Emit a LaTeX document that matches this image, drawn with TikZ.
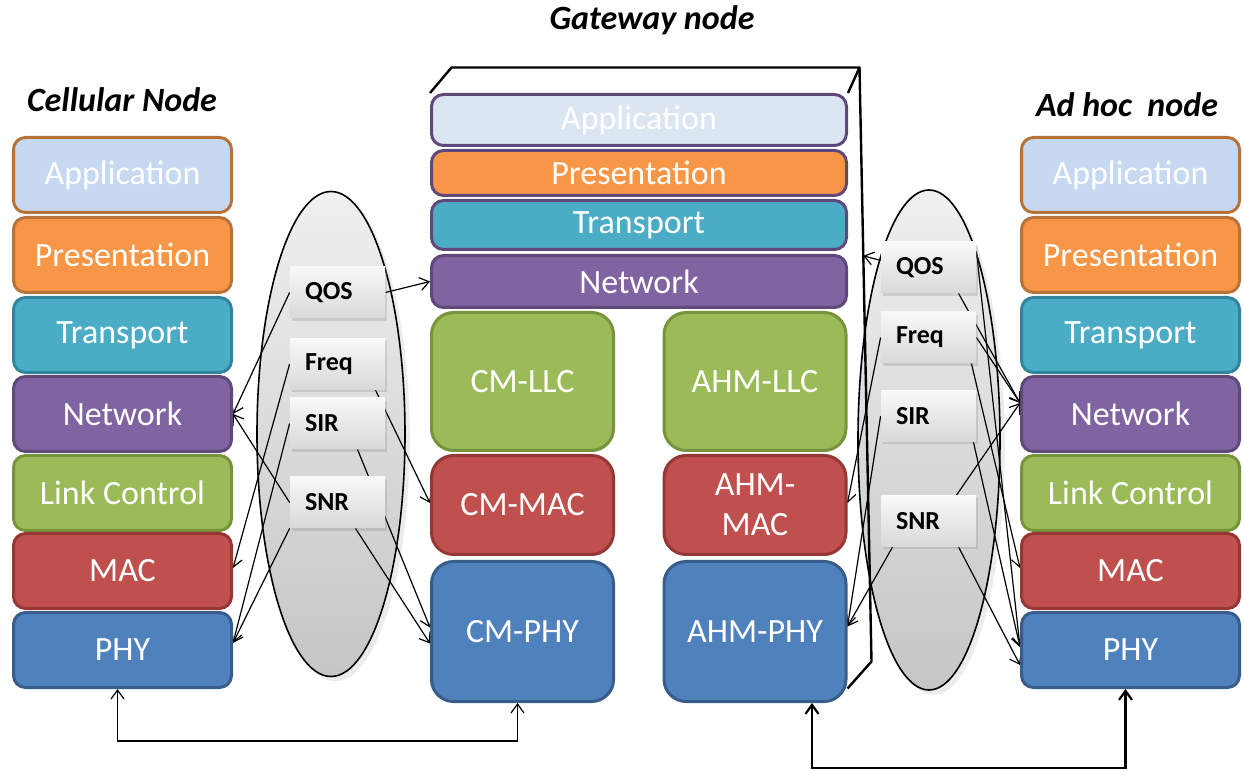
\documentclass[tikz,border=0pt]{standalone}
\usepackage{fontspec}
\setmainfont{Carlito}
\usetikzlibrary{shapes.geometric,shadows,calc,arrows.meta}
\pgfdeclarelayer{back}
\pgfdeclarelayer{mid}
\pgfsetlayers{back,mid,main}

\definecolor{appBlue}{HTML}{C6D9F1}
\definecolor{gwApp}{HTML}{DCE6F2}
\definecolor{preOr}{HTML}{F79646}
\definecolor{traCy}{HTML}{4BACC6}
\definecolor{netPu}{HTML}{8064A2}
\definecolor{llcGr}{HTML}{9BBB59}
\definecolor{macRd}{HTML}{C0504D}
\definecolor{phyBl}{HTML}{4F81BD}
\definecolor{edgeBr}{HTML}{B8733A}
\definecolor{edgeCy}{HTML}{31849B}
\definecolor{edgePu}{HTML}{5F497A}
\definecolor{edgeGr}{HTML}{77933C}
\definecolor{edgeRd}{HTML}{953735}
\definecolor{edgeBl}{HTML}{385D8A}

\begin{document}
\begin{tikzpicture}[x=0.5pt, y=-0.5pt, >={Straight Barb[length=4.5pt,width=6.5pt]},
		osibox/.style={draw, rounded corners=6pt, line width=1.5pt, text=white, font=\fontsize{17}{20}\selectfont, minimum width=109pt, minimum height=37.5pt, inner sep=0pt},
		gwtop/.style={osibox, draw=edgePu, minimum width=207.5pt},
		gwlow/.style={osibox, rounded corners=11pt, minimum width=91pt, align=center},
		param/.style={top color=gray!5, bottom color=gray!30, font=\bfseries\fontsize{13}{15}\selectfont, text width=32.5pt, inner xsep=7.5pt, align=left, minimum height=25.5pt, drop shadow={opacity=0.25, shadow xshift=1pt, shadow yshift=-1.5pt}},
		ovalbox/.style={ellipse, draw, line width=0.8pt, top color=gray!12, bottom color=gray!45, drop shadow={opacity=0.15}},
		conn/.style={->, line width=0.6pt},
		title/.style={font=\bfseries\itshape\fontsize{17}{20}\selectfont}]
		\useasboundingbox (0,0) rectangle (1244,770);
		% titles
		\node[title] (cTitle) at (122,100) {Cellular Node};
		\node[title] (gTitle) at (652,20) {Gateway node};
		\node[title] (aTitle) at (1127,105) {Ad hoc\ \ node};
		% cellular node
		\node[osibox, fill=appBlue, draw=edgeBr] (cApp) at (122.5,175) {Application};
		\node[osibox, fill=preOr, draw=edgeBr] (cPre) at (122.5,255) {Presentation};
		\node[osibox, fill=traCy, draw=edgeCy] (cTra) at (122.5,335) {Transport};
		\node[osibox, fill=netPu, draw=edgePu] (cNet) at (122.5,414) {Network};
		\node[osibox, fill=llcGr, draw=edgeGr] (cLlc) at (122.5,493) {Link Control};
		\node[osibox, fill=macRd, draw=edgeRd] (cMac) at (122.5,571) {MAC};
		\node[osibox, fill=phyBl, draw=edgeBl] (cPhy) at (122.5,650) {PHY};
		% ad hoc node
		\node[osibox, fill=appBlue, draw=edgeBr] (aApp) at (1130.5,175) {Application};
		\node[osibox, fill=preOr, draw=edgeBr] (aPre) at (1130.5,255) {Presentation};
		\node[osibox, fill=traCy, draw=edgeCy] (aTra) at (1130.5,335) {Transport};
		\node[osibox, fill=netPu, draw=edgePu] (aNet) at (1130.5,414) {Network};
		\node[osibox, fill=llcGr, draw=edgeGr] (aLlc) at (1130.5,493) {Link Control};
		\node[osibox, fill=macRd, draw=edgeRd] (aMac) at (1130.5,571) {MAC};
		\node[osibox, fill=phyBl, draw=edgeBl] (aPhy) at (1130.5,650) {PHY};
		% gateway node
		\node[gwtop, fill=gwApp, minimum height=25.5pt] (gApp) at (639,120) {Application};
		\node[gwtop, fill=preOr, minimum height=22.5pt] (gPre) at (639,173) {Presentation};
		\node[gwtop, fill=traCy, minimum height=24.5pt] (gTra) at (639,225) {Transport};
		\node[gwtop, fill=netPu, minimum height=26pt] (gNet) at (639,281.5) {Network};
		\node[gwlow, fill=llcGr, draw=edgeGr, minimum height=69pt] (gCmLlc) at (522.5,381.5) {CM-LLC};
		\node[gwlow, fill=macRd, draw=edgeRd, minimum height=49.5pt] (gCmMac) at (522.5,505) {CM-MAC};
		\node[gwlow, fill=phyBl, draw=edgeBl, minimum height=70pt] (gCmPhy) at (522.5,631.5) {CM-PHY};
		\node[gwlow, fill=llcGr, draw=edgeGr, minimum height=69pt] (gAhLlc) at (755,381.5) {AHM-LLC};
		\node[gwlow, fill=macRd, draw=edgeRd, minimum height=49.5pt] (gAhMac) at (755,505) {AHM-\\MAC};
		\node[gwlow, fill=phyBl, draw=edgeBl, minimum height=70pt] (gAhPhy) at (755,631.5) {AHM-PHY};
		% ellipses
		\begin{pgfonlayer}{back}
		\node[ovalbox, minimum width=74pt, minimum height=242.5pt] (lOval) at (331,434) {};
		\node[ovalbox, minimum width=71pt, minimum height=250pt] (rOval) at (929,440) {};
		\end{pgfonlayer}
		% parameters
		\node[param] (lQos) at (337.5,292.5) {QOS};
		\node[param] (lFreq) at (337.5,364) {Freq};
		\node[param] (lSir) at (337.5,423.5) {SIR};
		\node[param] (lSnr) at (337.5,502.5) {SNR};
		\node[param] (rQos) at (928.5,267.5) {QOS};
		\node[param] (rFreq) at (928.5,337.5) {Freq};
		\node[param] (rSir) at (928.5,416) {SIR};
		\node[param] (rSnr) at (928.5,521) {SNR};
		\begin{pgfonlayer}{mid}
		% gateway outline
		\coordinate (gBackTop) at ($(gApp.north east)+(11.5,-25.5)$);
		\coordinate (gBackFoot) at ($(gBackTop)+(12,594)$);
		\coordinate (gEdge) at ($(gBackTop)!0.317!(gBackFoot)$);
		\draw[line width=1.2pt, line join=round] (gApp.north west) -- ++(21.5,-25.5) -- (gBackTop) -- (gApp.north east);
		\draw[line width=1.2pt, line join=round] (gBackTop) -- (gBackFoot) -- ($(gAhPhy.east)+(0,57)$);
		% cellular side
		\draw[conn] (lQos.east) -- (gNet.west);
		\draw[conn] (lQos.west) -- (cNet.east);
		\draw[conn] (lSnr.west) -- (cNet.east);
		\draw[conn] (lFreq.west) -- ($(cMac.east)+(0,-3)$);
		\draw[conn] (lSir.west) -- ($(cPhy.east)+(0,-7)$);
		\draw[conn] (lSnr.south west) -- ($(cPhy.east)+(0,-7)$);
		\draw[conn] ($(lFreq.south east)+(-10,0)$) -- ($(gCmMac.west)+(0,-2)$);
		\draw[conn] ($(lSir.south)+(20,0)$) -- ($(gCmPhy.west)+(0,-4)$);
		\draw[conn] ($(lSnr.south)+(18,0)$) -- ($(gCmPhy.west)+(0,12)$);
		% ad hoc side
		\draw[conn] ($(rQos.west)+(0,-7)$) -- (gEdge);
		\draw[conn] ($(rQos.south)+(30,0)$) -- ($(aNet.west)+(0,-11)$);
		\draw[conn] (rFreq.east) -- ($(aNet.west)+(0,-11)$);
		\draw[conn] ($(rSnr.north)+(28,0)$) -- ($(aNet.west)+(0,-11)$);
		\draw[conn] ($(rQos.north east)+(0,10)$) -- ($(aPhy.west)+(0,-3)$);
		\draw[conn] ($(rFreq.south east)+(-5,0)$) -- ($(aMac.west)+(0,-3)$);
		\draw[conn] ($(rSir.south east)+(-3,0)$) -- ($(aPhy.west)+(0,-3)$);
		\draw[conn] ($(rSnr.south)+(30,0)$) -- ($(aPhy.west)+(0,15)$);
		\draw[conn] (rFreq.west) -- ($(gAhMac.east)+(0,-2)$);
		\draw[conn] (rSir.west) -- ($(gAhPhy.east)+(0,-5)$);
		\draw[conn] ($(rSnr.south west)+(12,0)$) -- ($(gAhPhy.east)+(0,-5)$);
		% physical links
		\draw[<->, line width=0.6pt] ($(cPhy.south)+(-5,0)$) -- ++(0,52) -| ($(gCmPhy.south)+(-5,0)$);
		\draw[<->, line width=1.1pt] ($(gAhPhy.south)+(57,0)$) -- ++(0,65) -| ($(aPhy.south)+(-5,0)$);
		\end{pgfonlayer}
\end{tikzpicture}
\end{document}
